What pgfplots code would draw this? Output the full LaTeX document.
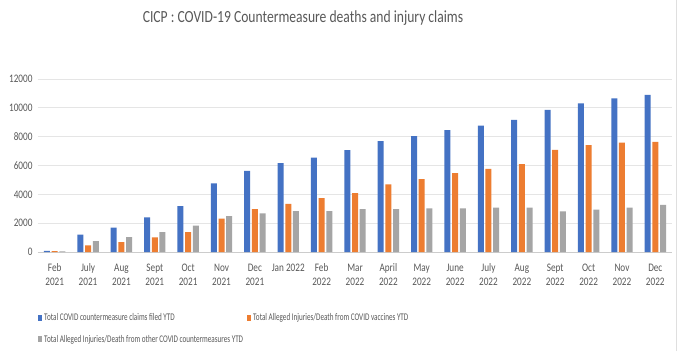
\documentclass[border=0pt]{standalone}
\usepackage{pgfplots}
\pgfplotsset{compat=1.18}
\usepackage{fontspec}
\setmainfont[FakeStretch=0.8]{Carlito}
\newfontfamily\legfont[FakeStretch=0.7]{Carlito}
\definecolor{cblue}{HTML}{4472C4}
\definecolor{corange}{HTML}{ED7D31}
\definecolor{cgray}{HTML}{A5A5A5}
\definecolor{txt}{HTML}{595959}
\begin{document}
\begin{tikzpicture}[x=1pt,y=1pt]
\path[use as bounding box, fill=white] (0,0) rectangle (680,351);
\draw[gray!25, line width=1pt] (676,0) -- (676,351);
\node[anchor=center, font=\fontsize{17}{20}\selectfont, text=txt] at (303,333) {CICP : COVID-19 Countermeasure deaths and injury claims};
\begin{axis}[
  at={(38pt,99pt)}, anchor=south west, scale only axis,
  width=634pt, height=173pt,
  ymin=0, ymax=12000, xmin=-0.5, xmax=18.5,
  ybar=1.7pt, bar width=6pt,
  ytick={0,2000,...,12000},
  scaled y ticks=false,
  ymajorgrids, grid style={gray!20, line width=0.8pt},
  axis x line*=bottom, axis y line*=left,
  y axis line style={draw=none},
  x axis line style={gray!40, line width=0.8pt, -},
  ytick style={draw=none},
  major x tick style={draw=none},
  xtick={0,...,18},
  xticklabels={{Feb\\2021},{July\\2021},{Aug\\2021},{Sept\\2021},{Oct\\2021},{Nov\\2021},{Dec\\2021},{Jan 2022},{Feb\\2022},{Mar\\2022},{April\\2022},{May\\2022},{June\\2022},{July\\2022},{Aug\\2022},{Sept\\2022},{Oct\\2022},{Nov\\2022},{Dec\\2022}},
  xticklabel style={align=center, text=txt, font=\fontsize{11.5}{14}\selectfont, anchor=north, yshift=-4pt},
  yticklabel style={text=txt, font=\fontsize{11.5}{12}\selectfont, xshift=-2pt},
  /pgf/number format/assume math mode=true,
  /pgf/number format/1000 sep={},
  extra x ticks={-0.5,0.5,...,18.5},
  extra x tick labels={},
  extra x tick style={major tick length=4pt, tick align=outside, major tick style={gray!40, line width=0.8pt}},
  legend style={at={(0,-0.345)}, anchor=north west, draw=none, fill=none, font=\legfont\fontsize{10.2}{11}\selectfont, text=txt, row sep=8.5pt, inner sep=0pt, /tikz/every even column/.append style={column sep=2pt}},
  legend columns=2, legend cell align=left,
  legend image code/.code={\fill[#1] (0pt,-3pt) rectangle (4pt,3pt);},
]
\addplot[fill=cblue, draw=none] coordinates {(0,80)(1,1200)(2,1685)(3,2400)(4,3185)(5,4754)(6,5631)(7,6162)(8,6554)(9,7062)(10,7685)(11,8031)(12,8447)(13,8770)(14,9162)(15,9855)(16,10317)(17,10663)(18,10894)};
\addplot[fill=corange, draw=none] coordinates {(0,60)(1,460)(2,690)(3,1015)(4,1385)(5,2308)(6,2977)(7,3346)(8,3739)(9,4085)(10,4685)(11,5054)(12,5469)(13,5770)(14,6093)(15,7085)(16,7408)(17,7593)(18,7639)};
\addplot[fill=cgray, draw=none] coordinates {(0,50)(1,760)(2,1040)(3,1385)(4,1823)(5,2492)(6,2677)(7,2838)(8,2838)(9,2977)(10,2977)(11,3023)(12,3023)(13,3070)(14,3070)(15,2815)(16,2931)(17,3070)(18,3277)};
\legend{Total COVID countermeasure claims filed YTD, Total Alleged Injuries/Death from COVID vaccines YTD, Total Alleged Injuries/Death from other COVID countermeasures YTD}
\end{axis}
\end{tikzpicture}
\end{document}
